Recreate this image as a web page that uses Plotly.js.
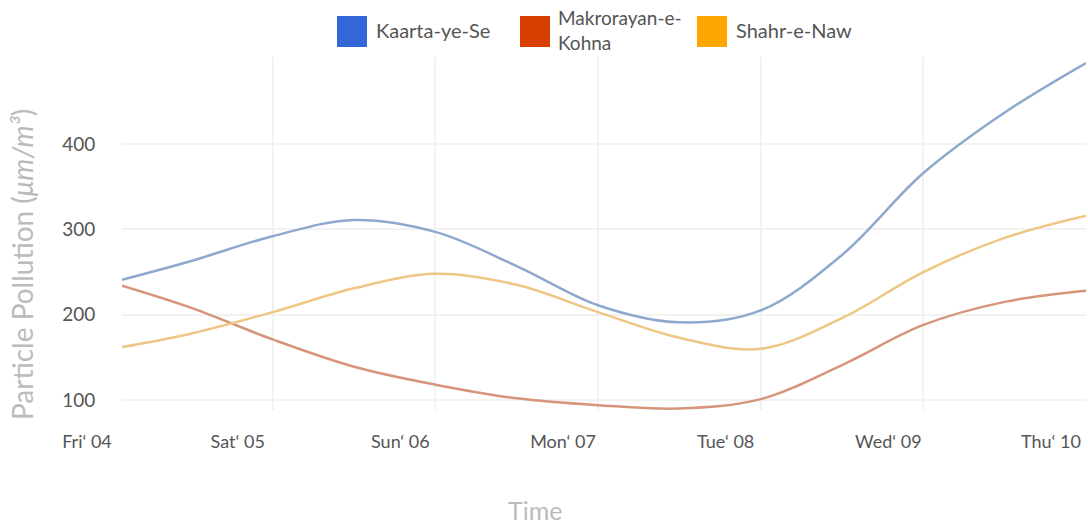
<!DOCTYPE html>
<html>
<head>
<meta charset="utf-8">
<script src="https://cdn.plot.ly/plotly-3.0.1.min.js"></script>
<style>html,body{margin:0;padding:0;background:#fff;}#chart{width:1088px;height:525px;}</style>
</head>
<body>
<div id="chart"></div>
<script>
// ---- data ----
const times = [
  "2024-10-04 01:46", "2024-10-04 12:00", "2024-10-05 00:00", "2024-10-05 12:00",
  "2024-10-06 00:00", "2024-10-06 12:00", "2024-10-07 00:00", "2024-10-07 12:00",
  "2024-10-08 00:00", "2024-10-08 12:00", "2024-10-09 00:00", "2024-10-09 12:00",
  "2024-10-10 00:00"
];
const seriesNames = ["Kaarta-ye-Se", "Makrorayan-e-Kohna", "Shahr-e-Naw"];
const legendLines = [["Kaarta-ye-Se"], ["Makrorayan-e-", "Kohna"], ["Shahr-e-Naw"]];
const kaartaYeSe   = [241, 263, 292, 311, 297, 257, 211, 191, 205, 270, 366, 437, 495];
const makrorayan   = [234, 208, 171, 139, 118, 102, 94, 90, 101, 141, 188, 215, 228];
const shahrENaw    = [162, 178, 203, 231, 248, 235, 203, 173, 160, 196, 250, 290, 316];
const tickVals = ["2024-10-04 01:46", "2024-10-05", "2024-10-06", "2024-10-07", "2024-10-08", "2024-10-09", "2024-10-10"];
const tickText = ["Fri\u2018 04", "Sat\u2018 05", "Sun\u2018 06", "Mon\u2018 07", "Tue\u2018 08", "Wed\u2018 09", "Thu\u2018 10"];
const yTicks = [100, 200, 300, 400];
const xTitle = "Time";
const yTitle = "Particle Pollution (<i>\u03bcm/m\u00b3</i>)";

// ---- styles ----
const swatchColors = ["#3366d6", "#d64000", "#ffa500"];
const lineColors = ["#8ea8cf", "#d6957a", "#efc684"];
const FONT = "Lato, 'Noto Sans', sans-serif";

const W = 1088, H = 525;
const M = {l: 122, r: 2, t: 57, b: 115};
const pw = W - M.l - M.r, ph = H - M.t - M.b;
const px = x => (x - M.l) / pw;
const py = y => (H - M.b - y) / ph;

const allSeries = [kaartaYeSe, makrorayan, shahrENaw];
const traces = allSeries.map((ys, i) => ({
  type: "scatter", mode: "lines", x: times, y: ys,
  name: seriesNames[i],
  line: {color: lineColors[i], width: 2.5, shape: "spline", smoothing: 1},
  showlegend: false, hoverinfo: "x+y+name"
}));

// custom legend (squares + labels)
const legendX = [337, 520, 697];
const shapes = [], annotations = [];
legendX.forEach((lx, i) => {
  shapes.push({type: "rect", xref: "paper", yref: "paper",
    x0: px(lx), x1: px(lx + 30), y0: py(47), y1: py(16),
    fillcolor: swatchColors[i], line: {width: 0}});
  const lines = legendLines[i];
  if (lines.length === 1) {
    annotations.push({xref: "paper", yref: "paper", x: px(lx + 37), y: py(30),
      xanchor: "left", yanchor: "middle", showarrow: false, align: "left",
      text: lines[0], font: {family: FONT, size: 20, color: "#555"}});
  } else {
    annotations.push({xref: "paper", yref: "paper", x: px(lx + 37), y: py(30),
      xanchor: "left", yanchor: "bottom", showarrow: false, align: "left", borderpad: 0,
      text: lines[0], font: {family: FONT, size: 19, color: "#555"}});
    annotations.push({xref: "paper", yref: "paper", x: px(lx + 37), y: py(30),
      xanchor: "left", yanchor: "top", showarrow: false, align: "left", borderpad: 0,
      text: lines[1], font: {family: FONT, size: 19, color: "#555"}});
  }
});
// axis titles
annotations.push({xref: "paper", yref: "paper", x: px(535), y: py(510),
  xanchor: "center", yanchor: "middle", showarrow: false,
  text: xTitle, font: {family: FONT, size: 25, color: "#bbb"}});
annotations.push({xref: "paper", yref: "paper", x: px(22), y: py(265),
  xanchor: "center", yanchor: "middle", showarrow: false, textangle: -90,
  text: yTitle, font: {family: FONT, size: 28, color: "#bbb"}});

const layout = {
  width: W, height: H,
  margin: M,
  paper_bgcolor: "#fff", plot_bgcolor: "#fff",
  showlegend: false,
  font: {family: FONT, color: "#555", size: 18},
  xaxis: {
    type: "date",
    range: ["2024-10-04 01:46", "2024-10-10 00:00"],
    tickmode: "array", tickvals: tickVals, ticktext: tickText,
    ticklabelshift: -35,
    showgrid: true, gridcolor: "#f2f2f2", gridwidth: 1.5,
    zeroline: false, showline: false,
    ticks: "outside", ticklen: 15, tickcolor: "rgba(0,0,0,0)",
    tickfont: {family: FONT, size: 18, color: "#555"}
  },
  yaxis: {
    range: [88.3, 502],
    tickmode: "array", tickvals: yTicks,
    showgrid: true, gridcolor: "#f2f2f2", gridwidth: 1.5,
    zeroline: false, showline: false,
    ticks: "outside", ticklen: 22, tickcolor: "rgba(0,0,0,0)",
    tickfont: {family: FONT, size: 19, color: "#555"}
  },
  shapes: shapes,
  annotations: annotations
};

Plotly.newPlot("chart", traces, layout, {displayModeBar: false, responsive: false});
</script>
</body>
</html>
